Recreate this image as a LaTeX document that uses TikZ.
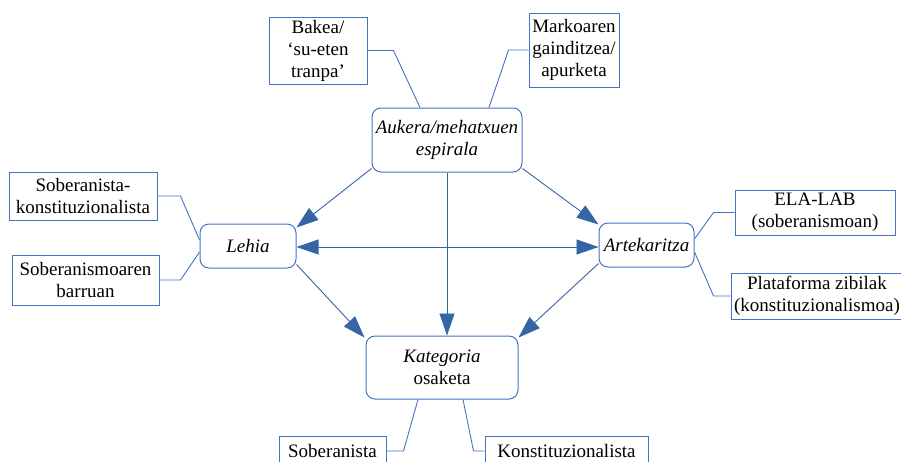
\documentclass[tikz,border=0pt]{standalone}
\usepackage{fontspec}
\setmainfont{Liberation Serif}
\usetikzlibrary{arrows.meta}
\definecolor{boxblue}{RGB}{68,114,196}
\definecolor{tipblue}{RGB}{53,101,164}

\begin{document}
\begin{tikzpicture}[x=1pt,y=-1pt,
  sqbox/.style={draw=boxblue,line width=1pt,align=center,inner sep=0pt,font=\fontsize{19}{22}\selectfont},
  rdbox/.style={sqbox,rounded corners=9pt},
  link/.style={boxblue,line width=0.9pt},
  flow/.style={tipblue,line width=0.9pt,-{Triangle[length=22pt,width=15pt]}}]
\useasboundingbox (0,0) rectangle (901,461);
% outer boxes
\node[sqbox,minimum width=98pt,minimum height=67pt] (bakea) at (318,50.5) {Bakea/\\`su-eten\\tranpa'};
\node[sqbox,minimum width=90pt,minimum height=74pt] (marko) at (574,50) {Markoaren\\gainditzea/\\apurketa};
\node[sqbox,minimum width=148pt,minimum height=48pt] (sobkon) at (83,196) {Soberanista-\\konstituzionalista};
\node[sqbox,minimum width=147pt,minimum height=50pt] (sobbar) at (85.5,280) {Soberanismoaren\\barruan};
\node[sqbox,minimum width=160pt,minimum height=45pt] (elalab) at (815,212.5) {ELA-LAB\\(soberanismoan)};
\node[sqbox,minimum width=172pt,minimum height=46pt] (plataf) at (817,296) {Plataforma zibilak\\(konstituzionalismoa)};
\node[sqbox,minimum width=107pt,minimum height=30pt] (sober) at (332.5,451) {Soberanista};
\node[sqbox,minimum width=163pt,minimum height=30pt] (konst) at (566.5,451) {Konstituzionalista};
% rounded boxes
\node[rdbox,minimum width=150pt,minimum height=64pt] (aukera) at (447,140) {\textit{Aukera/mehatxuen}\\\textit{espirala}};
\node[rdbox,minimum width=96pt,minimum height=44pt] (lehia) at (248,246) {\textit{Lehia}};
\node[rdbox,minimum width=95pt,minimum height=44pt] (arteka) at (646.5,245) {\textit{Artekaritza}};
\node[rdbox,minimum width=152pt,minimum height=63pt] (kateg) at (442,367.5) {\textit{Kategoria}\\osaketa};
% thin links
\draw[link] (bakea.east) -- ++(26,0) -- ([xshift=-27pt]aukera.north);
\draw[link] (marko.west) -- ++(-20,0) -- ([xshift=42pt]aukera.north);
\draw[link] (sobkon.east) -- ++(23,0) -- ([yshift=6pt]lehia.west);
\draw[link] (sobbar.east) -- ++(21,0) -- ([yshift=-6pt]lehia.west);
\draw[link] (elalab.west) -- ++(-21,0) -- ([yshift=6pt]arteka.east);
\draw[link] (plataf.west) -- ++(-17,0) -- ([yshift=-7pt]arteka.east);
\draw[link] (sober.east) -- ++(17,0) -- ([xshift=-24pt]kateg.south);
\draw[link] (konst.west) -- ++(-11,0) -- ([xshift=21pt]kateg.south);
% arrows
\draw[flow] ([yshift=4pt]aukera.south west) -- ([yshift=-4pt]lehia.north east);
\draw[flow] ([yshift=4pt]aukera.south east) -- ([yshift=-2pt]arteka.north west);
\draw[flow] (aukera.south) -- (aukera.south |- kateg.north);
\draw[flow,{Triangle[length=22pt,width=15pt]}-{Triangle[length=22pt,width=15pt]}] ([yshift=-1pt]lehia.east) -- ([yshift=-1pt]lehia.east -| arteka.west);
\draw[flow] ([yshift=4pt]lehia.south east) -- ([xshift=-1pt,yshift=-2pt]kateg.north west);
\draw[flow] ([yshift=4pt]arteka.south west) -- ([yshift=-2pt]kateg.north east);
\end{tikzpicture}
\end{document}
